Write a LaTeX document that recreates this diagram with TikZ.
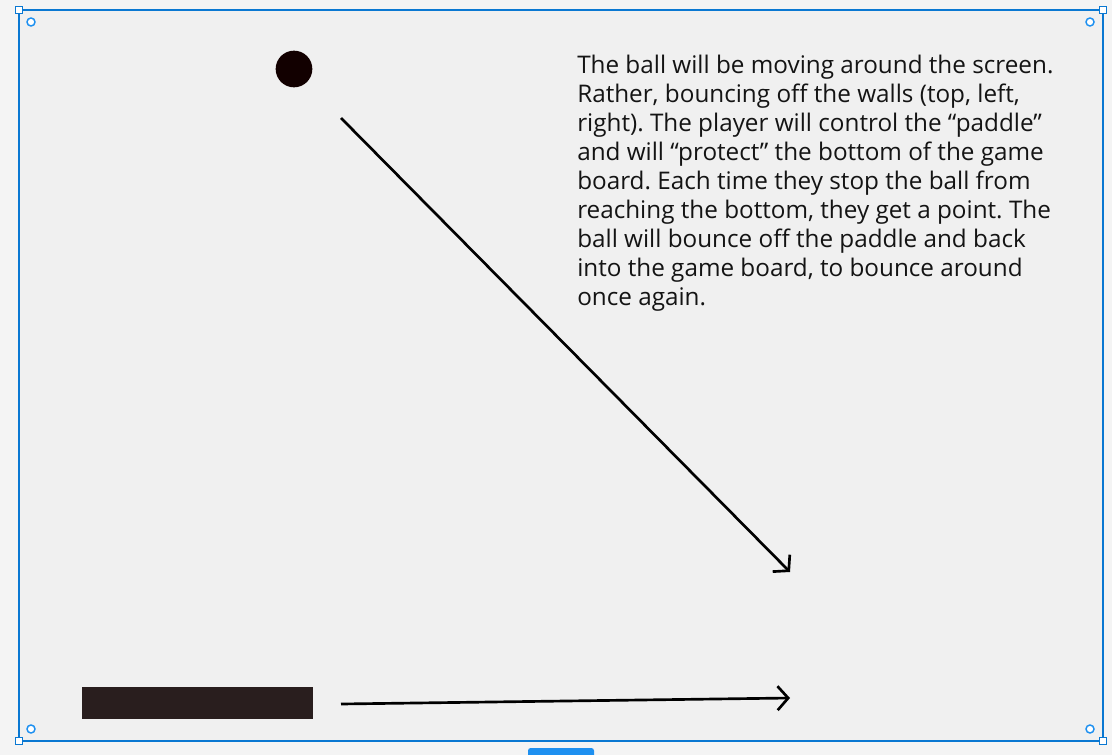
\documentclass[tikz,border=0pt]{standalone}
\usepackage{fontspec}
\setmainfont{Open Sans}
\frenchspacing
\definecolor{pagebg}{HTML}{F4F4F4}
\definecolor{boardbg}{HTML}{F0F0F0}
\definecolor{selblue}{HTML}{0A78D2}
\definecolor{handleblue}{HTML}{1E90F0}
\definecolor{ballc}{HTML}{120000}
\definecolor{paddlec}{HTML}{291E1E}
\tikzset{
  handle/.style={draw=selblue, fill=white, line width=1pt, minimum size=5.5pt, inner sep=0pt, rectangle},
  knob/.style={draw=handleblue, fill=white, line width=1.1pt, circle, minimum size=6pt, inner sep=0pt},
  motion/.style={line width=2pt, -{Straight Barb[length=8pt, width=18pt, line width=2pt]}},
}
\usetikzlibrary{arrows.meta}
\begin{document}
\begin{tikzpicture}[x=0.75pt, y=-0.75pt]
\useasboundingbox (0,0) rectangle (1112,755);
\fill[pagebg] (0,0) rectangle (1112,755);
% selection tag (cut off at bottom)
\fill[handleblue, rounded corners=2pt] (528,748) rectangle (594,762);
\fill[boardbg] (19,10) rectangle (1103,741);
\draw[selblue, line width=1.6pt] (19,10) rectangle (1103,741);
\node[handle] (h1) at (19,10) {};
\node[handle] (h2) at (1103,10) {};
\node[handle] (h3) at (19,741) {};
\node[handle] (h4) at (1103,741) {};
\node[knob] (k1) at (31,22) {};
\node[knob] (k2) at (1090,22) {};
\node[knob] (k3) at (31,729) {};
\node[knob] (k4) at (1090,729) {};
% ball and paddle
\node[circle, fill=ballc, minimum size=27.5pt, inner sep=0pt] (ball) at (294,69) {};
\node[fill=paddlec, minimum width=173.25pt, minimum height=24pt, inner sep=0pt, anchor=north west] (paddle) at (82,687) {};
% arrows
\coordinate (a1s) at (341,118);
\coordinate (a1e) at (790,572);
\coordinate (a2s) at (341,704);
\coordinate (a2e) at (790,698);
\draw[motion] (a1s) -- (a1e);
\draw[motion] (a2s) -- (a2e);
% text
\node[anchor=north west, align=left, inner sep=0pt, font=\fontsize{18.2pt}{21.75pt}\selectfont, text=black!92] (desc) at (577,55) {The ball will be moving around the screen.\\
Rather, bouncing off the walls (top, left,\\
right). The player will control the “paddle”\\
and will “protect” the bottom of the game\\
board. Each time they stop the ball from\\
reaching the bottom, they get a point. The\\
ball will bounce off the paddle and back\\
into the game board, to bounce around\\
once again.};
\end{tikzpicture}
\end{document}
